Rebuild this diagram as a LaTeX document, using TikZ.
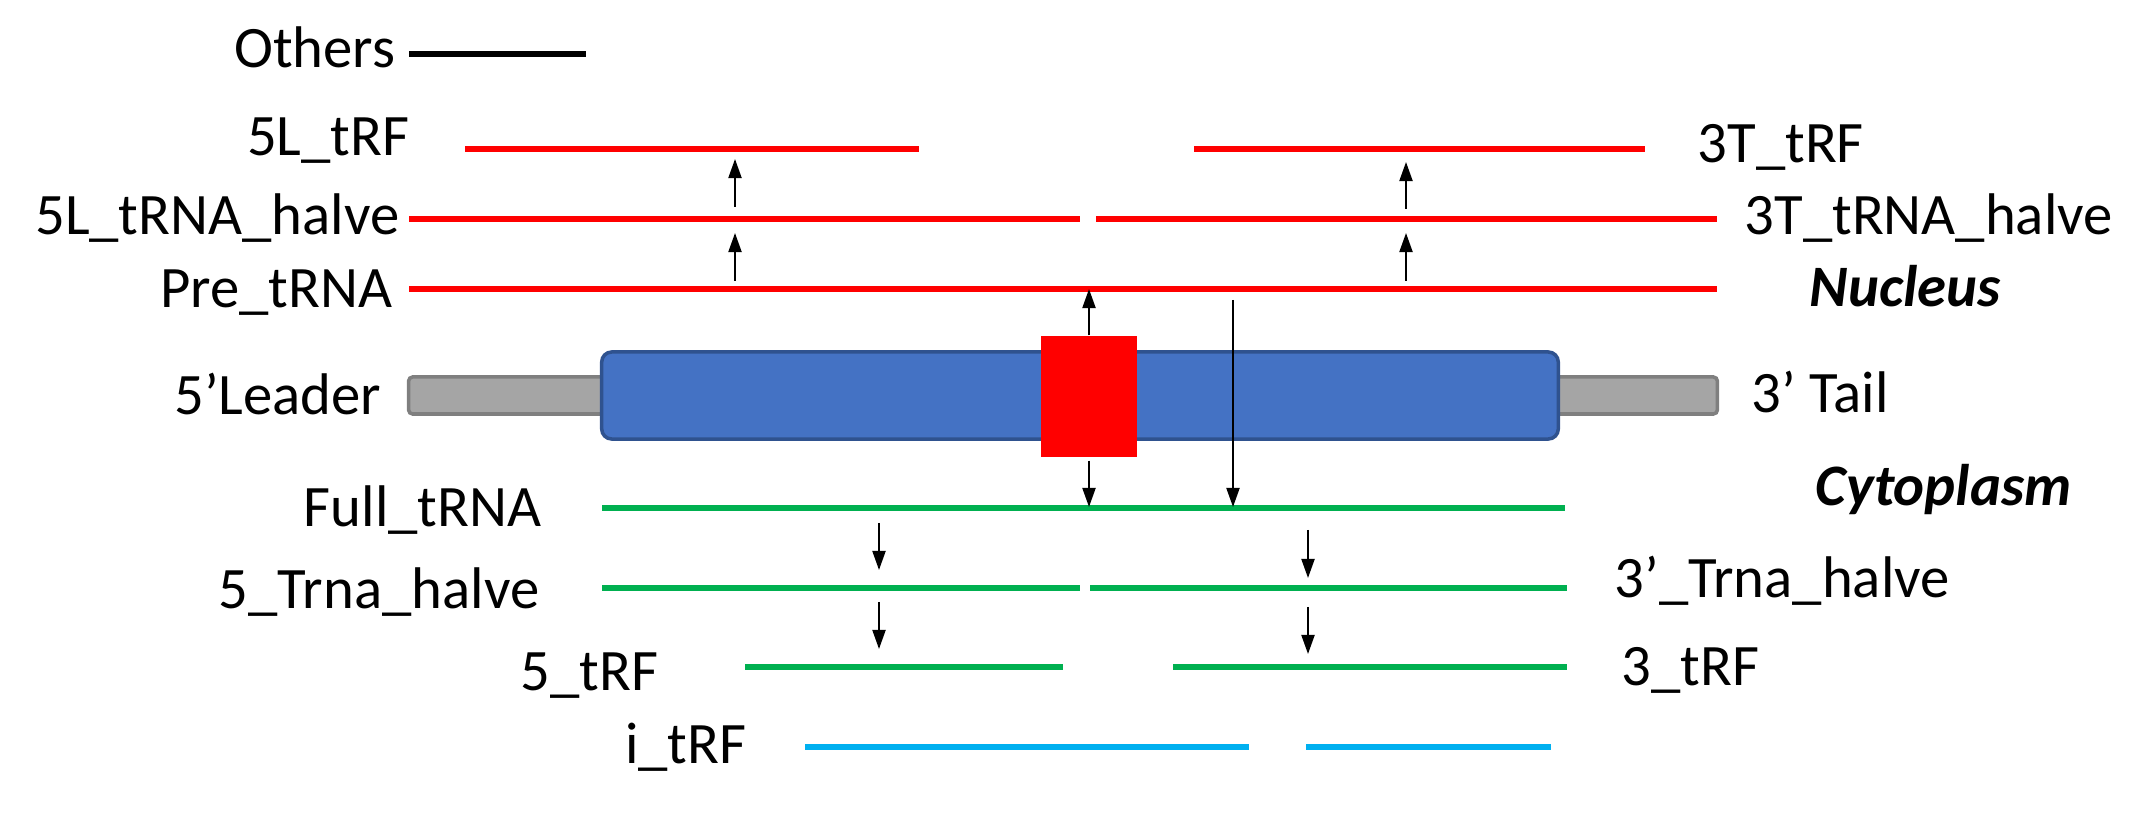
\documentclass[tikz,border=0pt]{standalone}
\usepackage{fontspec}
\setmainfont{Carlito}
\usetikzlibrary{arrows.meta}
\definecolor{nucred}{HTML}{FF0000}
\definecolor{cytgreen}{HTML}{00B050}
\definecolor{itrfblue}{HTML}{00B0F0}
\definecolor{bodyblue}{HTML}{4472C4}
\definecolor{bodyedge}{HTML}{2F528F}
\definecolor{tailgray}{HTML}{A5A5A5}
\definecolor{tailedge}{HTML}{7F7F7F}

\begin{document}
\begin{tikzpicture}[
    x=0.01cm, y=-0.01cm,
    lbl/.style={font=\fontsize{16.7}{20}\selectfont, inner sep=0pt},
    region/.style={lbl, font=\fontsize{16.7}{20}\selectfont\bfseries\itshape},
    strand/.style={line width=0.065cm},
    nuc/.style={strand, draw=nucred},
    cyt/.style={strand, draw=cytgreen},
    itrf/.style={strand, draw=itrfblue},
    cleave/.style={-{Triangle[length=0.19cm, width=0.13cm]}, line width=0.55pt},
]
    \useasboundingbox (0,0) rectangle (2133,822);

    % legend
    \node[lbl, anchor=base east] (others) at (396,68) {Others};
    \draw[strand] (409,54) -- (586,54);

    % precursor
    \node[draw=tailedge, fill=tailgray, line width=1pt, rounded corners=0.04cm,
        minimum width=13.08cm, minimum height=0.37cm, inner sep=0] (tail) at (1063,395.5) {};
    \node[draw=bodyedge, fill=bodyblue, line width=1pt, rounded corners=0.1cm,
        minimum width=9.56cm, minimum height=0.87cm, inner sep=0] (body) at (1080,395.5) {};
    \node[fill=nucred, minimum width=0.96cm, minimum height=1.21cm, inner sep=0] (cut) at (1089,396.5) {};
    \node[lbl, anchor=base east] (leader) at (382,415) {5’Leader};
    \node[lbl, anchor=base west] (trail) at (1751,413) {3’ Tail};

    % nucleus
    \draw[nuc] (465,149) -- (919,149);
    \draw[nuc] (1194,149) -- (1645,149);
    \draw[nuc] (409,219) -- (1080,219);
    \draw[nuc] (1096,219) -- (1717,219);
    \draw[nuc] (409,289) -- (1717,289);
    \node[lbl, anchor=base east] (l5trf) at (410,156) {5L\_tRF};
    \node[lbl, anchor=base east] (l5half) at (400,235) {5L\_tRNA\_halve};
    \node[lbl, anchor=base east] (pre) at (393,308) {Pre\_tRNA};
    \node[lbl, anchor=base west] (t3trf) at (1697,163) {3T\_tRF};
    \node[lbl, anchor=base west] (t3half) at (1744,235) {3T\_tRNA\_halve};
    \node[region, anchor=base west] (nucleus) at (1809,307) {Nucleus};

    % cytoplasm
    \draw[cyt] (602,508) -- (1565,508);
    \draw[cyt] (602,588) -- (1080,588);
    \draw[cyt] (1090,588) -- (1567,588);
    \draw[cyt] (745,667) -- (1063,667);
    \draw[cyt] (1173,667) -- (1567,667);
    \draw[itrf] (805,747) -- (1249,747);
    \draw[itrf] (1306,747) -- (1551,747);
    \node[lbl, anchor=base east] (full) at (542,527) {Full\_tRNA};
    \node[lbl, anchor=base east] (c5half) at (540,609) {5\_Trna\_halve};
    \node[lbl, anchor=base east] (c5trf) at (659,691) {5\_tRF};
    \node[lbl, anchor=base east] (itrflbl) at (747,764) {i\_tRF};
    \node[lbl, anchor=base west] (c3half) at (1614,598) {3’\_Trna\_halve};
    \node[lbl, anchor=base west] (c3trf) at (1621,686) {3\_tRF};
    \node[region, anchor=base west] (cyto) at (1815,506) {Cytoplasm};

    % cleavage arrows
    \foreach \x/\ya/\yb [count=\i] in {735/281/233, 735/207/159, 1406/281/233, 1406/209/162,
        1233/300/507, 879/523/570, 879/602/649, 1308/530/578, 1308/607/654} {
        \coordinate (from\i) at (\x,\ya);
        \coordinate (to\i) at (\x,\yb);
        \draw[cleave] (from\i) -- (to\i);
    }
    \coordinate (preup) at (1089,289);
    \coordinate (fulldown) at (1089,507);
    \draw[cleave] (cut.north) -- (preup);
    \draw[cleave] ([yshift=-0.03cm]cut.south) -- (fulldown);
\end{tikzpicture}
\end{document}
